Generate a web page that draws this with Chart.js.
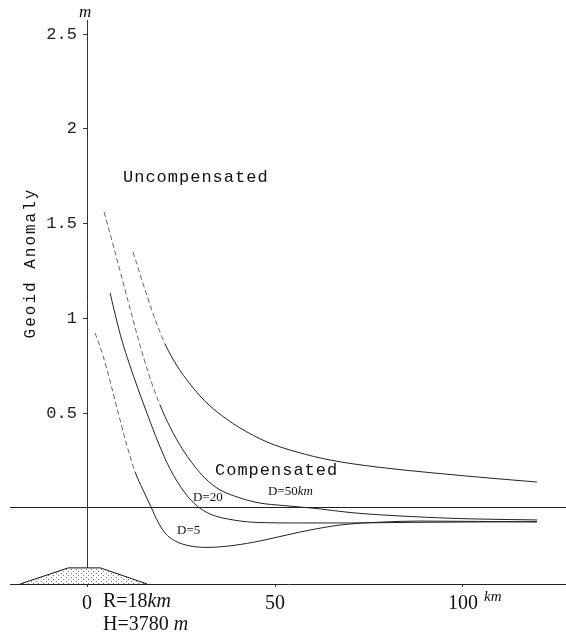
<!DOCTYPE html>
<html>
<head>
<meta charset="utf-8">
<script src="https://cdn.jsdelivr.net/npm/chart.js@4.4.1/dist/chart.umd.min.js"></script>
<style>
  html, body { margin: 0; padding: 0; background: #fff; }
  #wrap { width: 566px; height: 634px; position: relative; }
</style>
</head>
<body>
<div id="wrap"><canvas id="geoid"></canvas></div>
<script>
// distance from seamount centre (km) / geoid anomaly (m)
const uncompKm = [12.23, 15.96, 18.35, 20.74, 23.94, 27.39, 30.05, 32.71, 36.70, 40.69, 47.87, 55.85, 64.63, 77.13, 92.02, 109.84, 119.68];
const uncompM  = [1.350, 1.118, 0.981, 0.865, 0.749, 0.654, 0.591, 0.538, 0.475, 0.422, 0.348, 0.295, 0.253, 0.216, 0.185, 0.153, 0.137];

const d50Km = [4.52, 6.65, 8.78, 10.90, 13.03, 15.16, 17.29, 19.41, 22.07, 25.53, 30.05, 34.57, 40.69, 46.01, 52.13, 61.17, 69.95, 85.90, 101.06, 119.68];
const d50M  = [1.561, 1.408, 1.250, 1.092, 0.934, 0.786, 0.654, 0.543, 0.427, 0.306, 0.185, 0.105, 0.053, 0.026, 0.013, -0.003, -0.024, -0.045, -0.057, -0.063];

const d20Km = [6.12, 7.71, 9.31, 11.17, 13.56, 16.22, 18.88, 22.07, 26.06, 29.26, 32.71, 38.83, 46.01, 56.6, 69.9, 85.9, 101.0, 119.7];
const d20M  = [1.134, 1.002, 0.881, 0.765, 0.628, 0.485, 0.348, 0.206, 0.079, 0.011, -0.032, -0.063, -0.077, -0.079, -0.079, -0.076, -0.074, -0.072];

const d5Km = [2.13, 4.26, 6.38, 8.51, 10.64, 12.77, 14.89, 17.02, 18.88, 20.74, 23.40, 27.39, 31.91, 38.83, 46.01, 56.65, 67.29, 78.72, 88.56, 119.68];
const d5M  = [0.923, 0.802, 0.649, 0.485, 0.327, 0.190, 0.095, 0.005, -0.074, -0.132, -0.174, -0.200, -0.208, -0.198, -0.174, -0.127, -0.090, -0.074, -0.069, -0.074];

// seamount profile sketched under the axis
const mountKm = [-17.8, -5.0, 3.5, 16.0];
const mountM  = [-0.401, -0.316, -0.316, -0.401];

const xTicks = [0, 50, 100];
const yTicks = [0, 0.5, 1, 1.5, 2, 2.5];

const pts = (xs, ys) => xs.map((x, i) => ({ x: x, y: ys[i] }));

// stippled fill for the seamount
function stipple() {
  const c = document.createElement('canvas');
  c.width = 5; c.height = 4;
  const g = c.getContext('2d');
  g.fillStyle = '#fff';
  g.fillRect(0, 0, 5, 4);
  g.fillStyle = '#777';
  g.fillRect(1, 1, 1, 1);
  g.fillRect(3, 3, 1, 1);
  return g.createPattern(c, 'repeat');
}

// steep parts of the faint curves come out broken in the scan
const isSteep = c => Math.abs((c.p1.parsed.y - c.p0.parsed.y) / (c.p1.parsed.x - c.p0.parsed.x)) > 0.045;
const steepDash = c => isSteep(c) ? [5, 3] : undefined;
const steepCol = c => isSteep(c) ? '#666' : '#222';

const curve = (label, data, dashed) => ({
  label: label,
  data: data,
  borderColor: '#222',
  borderWidth: 1,
  pointRadius: 0,
  fill: false,
  cubicInterpolationMode: 'monotone',
  segment: dashed ? { borderDash: steepDash, borderColor: steepCol } : {}
});

function runs(ctx, x, y, parts) {
  ctx.textAlign = 'left';
  ctx.textBaseline = 'middle';
  for (const [txt, font] of parts) {
    ctx.font = font;
    ctx.fillText(txt, x, y);
    x += ctx.measureText(txt).width;
  }
}

const labels = {
  id: 'labels',
  afterDraw(chart) {
    const ctx = chart.ctx;
    ctx.save();
    ctx.fillStyle = '#111';
    const serif = '"Liberation Serif", serif';
    const mono = '"Liberation Mono", monospace';

    // unit labels
    runs(ctx, 79, 13, [['m', 'italic 17px ' + serif]]);
    runs(ctx, 484, 597, [['km', 'italic 15px ' + serif]]);

    // axis title, reading upward
    ctx.save();
    ctx.translate(31, 263);
    ctx.rotate(-Math.PI / 2);
    ctx.textAlign = 'center';
    ctx.textBaseline = 'middle';
    ctx.font = '16px ' + mono;
    ctx.letterSpacing = '2px';
    ctx.fillText('Geoid Anomaly', 0, 0);
    ctx.restore();

    ctx.letterSpacing = '1px';
    runs(ctx, 123, 177, [['Uncompensated', '17px ' + mono]]);
    runs(ctx, 215, 470, [['Compensated', '17px ' + mono]]);
    ctx.letterSpacing = '0px';

    runs(ctx, 268, 492, [['D=50', '13px ' + serif], ['km', 'italic 13px ' + serif]]);
    runs(ctx, 193, 498, [['D=20', '13px ' + serif]]);
    runs(ctx, 177, 531, [['D=5', '13px ' + serif]]);

    runs(ctx, 103, 602, [['R=18', '20px ' + serif], ['km', 'italic 20px ' + serif]]);
    runs(ctx, 103, 625, [['H=3780 ', '20px ' + serif], ['m', 'italic 20px ' + serif]]);
    ctx.restore();
  }
};

new Chart(document.getElementById('geoid'), {
  type: 'line',
  data: {
    datasets: [
      curve('Uncompensated', pts(uncompKm, uncompM), true),
      curve('Compensated D=50km', pts(d50Km, d50M), true),
      curve('D=20', pts(d20Km, d20M), false),
      curve('D=5', pts(d5Km, d5M), true),
      {
        label: 'Seamount',
        data: pts(mountKm, mountM),
        borderColor: '#111',
        borderWidth: 1,
        pointRadius: 0,
        tension: 0,
        fill: 'start',
        backgroundColor: stipple()
      }
    ]
  },
  options: {
    responsive: true,
    maintainAspectRatio: false,
    animation: false,
    layout: { padding: { left: 10, top: 20, right: 0, bottom: 0 } },
    plugins: { legend: { display: false }, tooltip: { enabled: false } },
    scales: {
      x: {
        type: 'linear',
        min: -20.5,
        max: 127.4,
        position: 'bottom',
        afterFit: s => { s.height = 50; },
        afterBuildTicks: s => { s.ticks = xTicks.map(v => ({ value: v })); },
        grid: { drawOnChartArea: false, tickLength: 3, color: '#333' },
        border: { color: '#222', width: 1 },
        ticks: { font: { family: 'Liberation Serif', size: 20 }, color: '#111', padding: 5, maxRotation: 0 }
      },
      y: {
        type: 'linear',
        min: -0.401,
        max: 2.574,
        position: { x: 0 },
        afterFit: s => { s.width = 0; },
        afterBuildTicks: s => { s.ticks = yTicks.map(v => ({ value: v })); },
        grid: {
          drawOnChartArea: true,
          tickLength: 4,
          color: c => (c.tick && c.tick.value === 0) ? '#222' : 'rgba(0,0,0,0)',
          tickColor: c => (c.tick && c.tick.value === 0) ? 'rgba(0,0,0,0)' : '#333'
        },
        border: { color: '#333', width: 1 },
        ticks: {
          // positioned axis puts labels flush on the line; trailing space keeps them clear
          callback: v => v === 0 ? '' : v + ' ',
          font: { family: 'Liberation Mono', size: 17 },
          color: '#222'
        }
      }
    }
  },
  plugins: [labels]
});
</script>
</body>
</html>
